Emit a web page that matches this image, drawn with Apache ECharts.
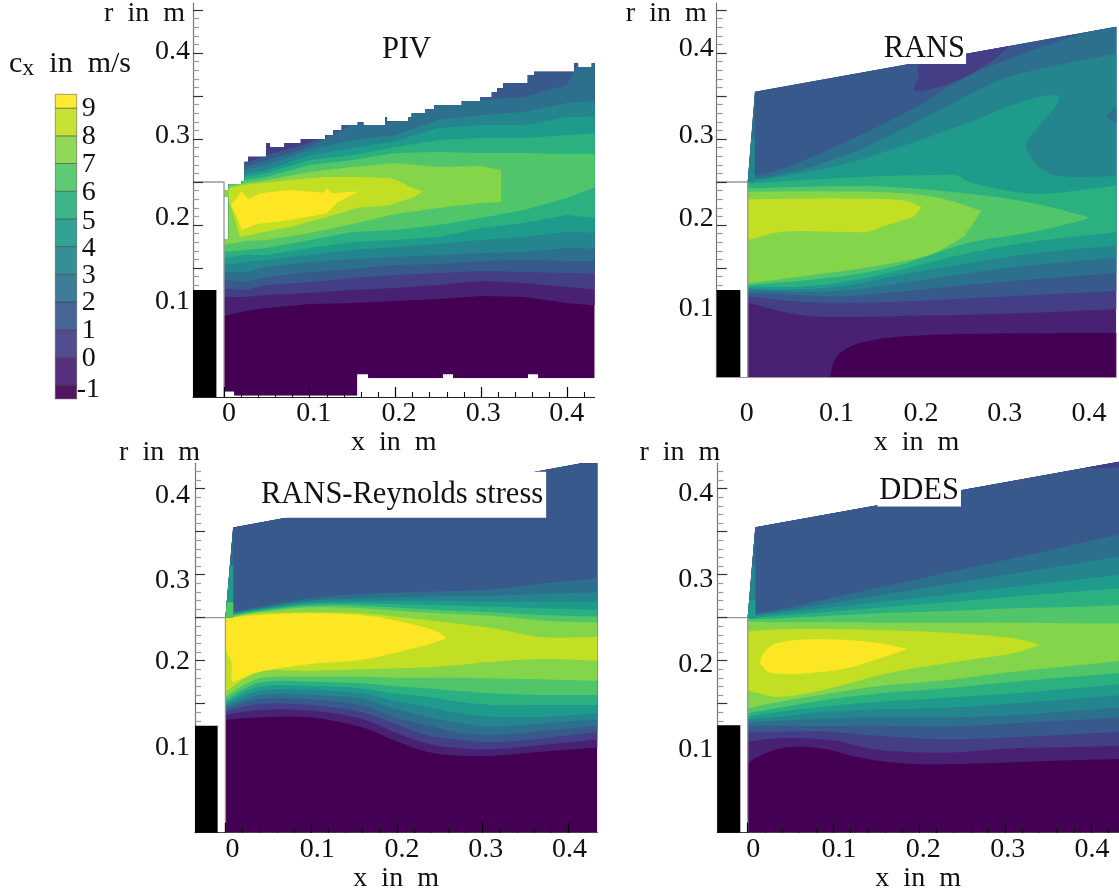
<!DOCTYPE html>
<html>
<head>
<meta charset="utf-8">
<style>html,body{margin:0;padding:0;background:#fff}#c{width:1119px;height:891px}</style>
<script src="https://cdn.jsdelivr.net/npm/echarts@6/dist/echarts.min.js"></script>
</head>
<body>
<div id="c"></div>
<script>
const FONT = '"Liberation Serif", serif';
const levelColors = ['#440154','#482173','#433E85','#38598C','#2D708E','#25858E','#1E9B8A','#2BB07F','#51C56A','#85D54A','#C2DF23','#FDE725'];
const legendEdges = [-1.5,-1,0,1,2,3,4,5,6,7,8,9,9.5];
const legendTicks = [-1,0,1,2,3,4,5,6,7,8,9];
const legendShift = [5,1.3,0.7,0.7,1.7,2,2.7,1.7,0.7,0.7,0];
const xTickLabels = ['0','0.1','0.2','0.3','0.4'];
const xTickValues = [0,0.1,0.2,0.3,0.4];
const yTickLabels = ['0.1','0.2','0.3','0.4'];
const yTickValues = [0.1,0.2,0.3,0.4];

/* ---------- PIV ---------- */
const pivDomain = [[0,.0062],[.0117,.0062],[.0117,.0015],[.1556,.0015],[.1556,.0263],[.168,.0263],[.168,.0217],[.2555,.0217],[.2555,.0263],[.2672,.0263],[.2672,.0217],[.3547,.0217],[.3547,.0263],[.3664,.0263],[.3664,.0217],[.4325,.0217],[.4325,.388],[.4291,.388],[.4291,.3837],[.4131,.3837],[.4131,.388],[.4088,.388],[.4088,.3783],[.3617,.3783],[.3617,.3744],[.3544,.3744],[.3544,.3648],[.3259,.3648],[.3259,.3593],[.3189,.3593],[.3189,.3547],[.3124,.3547],[.3124,.3488],[.2987,.3488],[.2987,.3442],[.2774,.3442],[.2774,.3395],[.2454,.3395],[.2454,.3345],[.2345,.3345],[.2345,.3299],[.219,.3299],[.219,.3252],[.215,.3252],[.215,.3209],[.1902,.3209],[.1902,.3252],[.1879,.3252],[.1879,.3163],[.1625,.3163],[.1625,.3194],[.156,.3194],[.156,.3163],[.1373,.3163],[.1373,.3105],[.1275,.3105],[.1275,.3047],[.1179,.3047],[.1179,.3],[.0895,.3],[.0895,.2953],[.07,.2953],[.07,.2907],[.0537,.2907],[.0537,.2953],[.049,.2953],[.049,.2907],[.049,.2794],[.028,.2794],[.028,.2736],[.0239,.2736],[.0239,.2512],[.0204,.2512],[.0204,.2477],[.0053,.2477],[.0053,.2407],[0,.2407],[0,.2329],[.0053,.2329],[.0053,.1837],[0,.1837]];
const pivX = [0,.025,.05,.1,.15,.2,.25,.3,.35,.4,.44];
const pivLowM1 = [.0942,.1,.1035,.1081,.1093,.1116,.114,.1174,.1163,.1093,.1058];
const pivLow0 = [.1163,.1163,.1186,.1209,.1244,.1267,.1302,.1349,.1326,.1279,.1244];
const pivLow1 = [.1256,.1244,.1302,.1337,.1384,.1419,.1442,.1465,.1453,.1442,.143];
const pivLow2 = [.136,.1337,.1395,.1453,.1488,.1535,.1547,.1581,.1593,.1581,.1581];
const pivLow3 = [.1453,.1453,.1512,.157,.1605,.1628,.1651,.1674,.1686,.1733,.1721];
const pivLow4 = [.1535,.157,.1593,.1651,.1709,.1744,.1779,.1826,.186,.1919,.1907];
const pivLow5 = [.1616,.1651,.1651,.1733,.1802,.1826,.186,.1965,.2023,.2116,.207];
const pivLow6 = [.1686,.1709,.1733,.1826,.1919,.1942,.2,.2081,.2174,.2314,.2465];
const pivUp1X = [0,.025,.05,.1,.15,.2,.44];
const pivUp1 = [.2721,.2721,.2814,.2953,.3244,.5,.5];
const pivUp2 = [.2674,.2674,.2756,.2907,.3163,.3198,.3453,.3453,.3488,.3628,.4384];
const pivUp3 = [.264,.264,.2698,.2872,.2988,.3047,.3221,.3279,.3314,.3419,.3442];
const pivUp4 = [.2593,.2593,.264,.2814,.2895,.2977,.3128,.3163,.3163,.3256,.3267];
const pivUp5 = [.2558,.2558,.2605,.2756,.2814,.2907,.2988,.3012,.3012,.3047,.307];
const pivUp6 = [.2523,.2523,.2558,.2698,.2756,.2837,.2849,.2837,.2837,.2826,.2826];
const piv7X = [0,.025,.05,.1,.15,.2,.25,.3,.3232];
const pivLow7 = [.1767,.1814,.1826,.1907,.2012,.2128,.2198,.2256,.2267];
const pivUp7 = [.244,.2488,.2523,.2616,.2674,.2721,.2674,.2686,.264];
const piv8Low = [[.0058,.2291],[.0187,.186],[.0459,.1919],[.077,.1977],[.1159,.2081],[.1548,.2198],[.1937,.2233],[.2112,.2291],[.2194,.2314],[.2322,.239]];
const piv8Up = [[.0058,.243],[.0225,.2465],[.077,.2523],[.1159,.2558],[.1548,.2558],[.1937,.2547],[.2089,.2488],[.217,.2442],[.2322,.239]];
const piv9Ring = [[.0078,.2238],[.0128,.2291],[.0206,.2388],[.0284,.2299],[.042,.2369],[.077,.2407],[.116,.2376],[.1199,.2427],[.1257,.2369],[.1567,.2388],[.1309,.2252],[.1199,.2136],[.077,.2058],[.0382,.2012],[.0206,.1942],[.0148,.2097]];

/* ---------- RANS ---------- */
const ransDomain = [[0,.0233],[.4302,.0233],[.4302,.4306],[.0085,.355],[0,.25]];
const ransDark = [[.0941,.0],[.0999,.0392],[.1155,.0566],[.1466,.0663],[.1933,.0713],[.2555,.0733],[.3333,.0741],[.4344,.0748]];
const ransLowX = [0,.061,.1194,.1777,.2555,.3333,.4344];
const ransLow0 = [.1097,.0953,.093,.0942,.0957,.098,.1023];
const ransLow1 = [.1174,.1108,.1097,.1108,.1147,.1186,.1236];
const ransLow2 = [.1213,.1186,.1174,.1225,.1302,.1368,.1446];
const ransLow3 = [.1244,.1225,.1244,.1322,.1438,.1535,.1624];
const ransLow4 = [.1263,.1252,.1302,.1418,.1554,.167,.1767];
const ransLow5 = [.1283,.1283,.1349,.1477,.167,.1806,.1922];
const rans6Low = [[0,.1302],[.061,.1353],[.1194,.1418],[.1777,.1535],[.2555,.1787],[.3333,.1922],[.3916,.2058],[.3956,.2097]];
const rans6Up = [[0,.2426],[.1388,.2453],[.2555,.2368],[.3333,.2252],[.3956,.2097]];
const rans7Low = [[0,.1322],[.061,.1399],[.1194,.1477],[.1777,.1573],[.2166,.167],[.2516,.1864],[.2555,.1922],[.2605,.198],[.2683,.2097],[.2722,.2166]];
const rans7Up = [[0,.2387],[.1388,.2387],[.2166,.2329],[.2722,.2166]];
const rans8Low = [[0,.1825],[.0416,.1922],[.1,.1922],[.1388,.1922],[.1621,.1999],[.1815,.2058],[.1932,.2097],[.203,.2205]];
const rans8Up = [[0,.2298],[.1,.231],[.1777,.229],[.203,.2205]];
const ransUp5 = [[0,.2484],[.1388,.2562],[.2166,.2581],[.2438,.2581],[.2613,.2492],[.31,.2387],[.3527,.2368],[.4345,.2465]];
const ransUp4 = [[0,.2504],[.1,.2678],[.1777,.2911],[.2555,.3182],[.3138,.3414],[.3527,.3511],[.3636,.3473],[.3527,.3298],[.3294,.3027],[.3255,.2872],[.3449,.2639],[.3722,.2562],[.4345,.2569]];
const ransUp3 = [[0,.2523],[.061,.2639],[.1388,.2911],[.2166,.3298],[.2944,.3686],[.3722,.388],[.4345,.3996]];
const ransUp2 = [[0,.2562],[.0416,.2659],[.1194,.2988],[.1972,.3376],[.2555,.3725],[.3333,.4035],[.4151,.4306],[.4345,.4383]];
const ransBlob2Low = [[.44,.3143],[.4209,.324],[.4209,.3298],[.44,.3434]];
const ransBlob0Low = [[.1932,.3589],[.2011,.3558],[.236,.3647],[.2749,.3841],[.31,.4112]];
const ransBlob0Up = [[.1932,.3589],[.1991,.3705],[.2088,.3918],[.31,.4112]];

/* ---------- RANS-Reynolds stress ---------- */
const rsDomain = [[0,0],[.4337,0],[.4337,.4295],[.415,.4295],[.009,.355],[0,.25]];
const rsX = [0,.0402,.0985,.1567,.1957,.2345,.2733,.3122,.3705,.4365];
const rsLowM1 = [.131,.1341,.1341,.1233,.1078,.0942,.0896,.0896,.0942,.0992];
const rsLow0 = [.1368,.1427,.1419,.133,.1175,.1039,.0981,.0969,.102,.1089];
const rsLow1 = [.1407,.1496,.1485,.1407,.1272,.1136,.1078,.1051,.1097,.1175];
const rsLow2 = [.1434,.1551,.1551,.1485,.1349,.1252,.1163,.1136,.1182,.1244];
const rsLow3 = [.1458,.1601,.1601,.1562,.1446,.1349,.1272,.1233,.1272,.1318];
const rsLow4 = [.1485,.1651,.1659,.162,.1535,.1465,.1388,.1349,.1349,.1388];
const rsLow5 = [.1512,.1698,.1706,.1679,.162,.1582,.1523,.1485,.1485,.1485];
const rsLow6 = [.1543,.1744,.1756,.1737,.1706,.1679,.1648,.162,.1601,.1601];
const rsLow7 = [.1582,.1795,.1814,.1814,.1803,.1803,.1803,.1795,.1783,.1764];
const rsLow8 = [.164,.1872,.1884,.1899,.1911,.1923,.195,.1989,.202,.2];
const rsUpX = [0,.0402,.0985,.1567,.2345,.3122,.3705,.4365];
const rsUp2 = [.2551,.2628,.2725,.2776,.2803,.283,.29,.2958];
const rsUp3 = [.2543,.2613,.2698,.2725,.2745,.2756,.2776,.2795];
const rsUp4 = [.2531,.2601,.2679,.2694,.2698,.2686,.2686,.2686];
const rsUp5 = [.2524,.259,.2659,.2667,.2648,.2628,.2609,.259];
const rsUp6 = [.2512,.2578,.264,.264,.2597,.2562,.2531,.2512];
const rsUp7 = [.25,.2566,.2621,.2609,.2559,.252,.2466,.2442];
const rsUp8 = [.2489,.2551,.2562,.2551,.2473,.2376,.2272,.2279];
const rs9Low = [[0,.2124],[.0072,.1969],[.0072,.1775],[.013,.1768],[.0402,.1872],[.0985,.1961],[.1567,.2008],[.1957,.2086],[.2345,.2183],[.2578,.226]];
const rs9Up = [[0,.2493],[.0402,.2531],[.0985,.2551],[.1567,.253],[.1957,.2473],[.2423,.2357],[.2578,.226]];

/* ---------- DDES ---------- */
const ddDomain = [[0,0],[.4327,0],[.4327,.4314],[.0089,.3551],[0,.25]];
const ddDarkX = [0,.0105,.0377,.0649,.096,.1348,.1931,.2708,.3485,.4378];
const ddLowM1 = [.0799,.0876,.098,.0999,.0961,.0865,.0799,.0806,.0834,.0857];
const ddLowX = [0,.0377,.096,.1542,.2319,.3096,.4378];
const ddLow0 = [.1058,.1097,.1078,.0961,.0931,.0981,.1008];
const ddLow1 = [.1175,.1175,.1175,.1124,.1086,.1109,.1175];
const ddLow2 = [.1244,.1244,.124,.1244,.1233,.1272,.1341];
const ddLow3 = [.1291,.1303,.133,.1341,.1341,.1368,.1458];
const ddLow4 = [.1318,.1349,.1407,.1434,.1454,.1504,.1601];
const ddLow5 = [.1349,.1407,.1473,.1523,.157,.162,.1729];
const ddLow6 = [.1388,.1454,.1551,.162,.1679,.1756,.1861];
const ddLow7 = [.1446,.1523,.162,.1706,.1775,.1872,.2];
const ddUpX = [0,.0377,.096,.1542,.2319,.3096,.3873,.4378];
const ddUp2 = [.2531,.2597,.2725,.2853,.3024,.319,.3365,.3481];
const ddUp3 = [.2524,.2574,.2667,.276,.2888,.3012,.3136,.3217];
const ddUp4 = [.2512,.2551,.2617,.2683,.2768,.2857,.2946,.3004];
const ddUp5 = [.2493,.2524,.257,.2617,.2679,.2745,.2807,.2845];
const ddUp6 = [.2481,.2493,.2524,.2551,.2578,.2609,.2628,.2648];
const ddUp7 = [.2454,.2446,.2446,.2442,.2442,.2442,.2434,.2431];
const dd8Low = [[0,.1651],[.0105,.1628],[.03,.1582],[.0571,.1601],[.096,.1679],[.1542,.1834],[.193,.1911],[.2319,.1969],[.2708,.2027],[.3096,.2086],[.3407,.2183]];
const dd8Up = [[0,.2338],[.0377,.2365],[.1154,.2365],[.2319,.2326],[.3096,.226],[.3407,.2183]];
const dd9Low = [[.0143,.1969],[.0162,.195],[.026,.1861],[.0533,.1845],[.0766,.1861],[.1154,.1911],[.1542,.2028],[.1865,.2136]];
const dd9Up = [[.0143,.1969],[.0182,.2086],[.0338,.2202],[.0688,.2248],[.1154,.2241],[.1542,.2202],[.1865,.2136]];
const ddBlob0Low = [[.3873,.425],[.4075,.4237],[.44,.4256]];
const ddBlob0Up = [[.3873,.425],[.44,.44]];

const zip = (xs, rs) => xs.map((x, i) => [x, rs[i]]);
const TOP = [[-.01,.5],[.45,.5]];
const band = (level, low, up) => ({level, low, up});

const pivPolys = [
  band(-2, pivDomain, []),
  band(-1, zip(pivX,pivLowM1), TOP), band(0, zip(pivX,pivLow0), TOP),
  band(1, zip(pivX,pivLow1), zip(pivUp1X,pivUp1)),
  band(2, zip(pivX,pivLow2), zip(pivX,pivUp2)),
  band(3, zip(pivX,pivLow3), zip(pivX,pivUp3)),
  band(4, zip(pivX,pivLow4), zip(pivX,pivUp4)),
  band(5, zip(pivX,pivLow5), zip(pivX,pivUp5)),
  band(6, zip(pivX,pivLow6), zip(pivX,pivUp6)),
  band(7, zip(piv7X,pivLow7), zip(piv7X,pivUp7)),
  band(8, piv8Low, piv8Up),
  band(9, piv9Ring, [])
];
const ransPolys = [
  band(-1, ransDomain, []),
  band(-2, ransDark, [[.0941,-.02],[.44,-.02]]),
  band(0, zip(ransLowX,ransLow0), TOP),
  band(1, zip(ransLowX,ransLow1), TOP),
  band(2, zip(ransLowX,ransLow2), ransUp2),
  band(3, zip(ransLowX,ransLow3), ransUp3),
  band(4, zip(ransLowX,ransLow4), ransUp4),
  band(5, zip(ransLowX,ransLow5), ransUp5),
  band(6, rans6Low, rans6Up), band(7, rans7Low, rans7Up), band(8, rans8Low, rans8Up),
  band(2, ransBlob2Low, [[.44,.3143],[.44,.3434]]),
  band(0, ransBlob0Low, ransBlob0Up),
  band(2, [[-.002,.2505],[.0085,.2505]], [[-.002,.355],[.0085,.355]]),
  band(3, [[-.002,.2505],[.0085,.2505]], [[-.002,.30],[.0085,.30]])
];
const rsPolys = [
  band(-2, rsDomain, []),
  band(-1, zip(rsX,rsLowM1), TOP), band(0, zip(rsX,rsLow0), TOP), band(1, zip(rsX,rsLow1), TOP),
  band(2, zip(rsX,rsLow2), zip(rsUpX,rsUp2)),
  band(3, zip(rsX,rsLow3), zip(rsUpX,rsUp3)),
  band(4, zip(rsX,rsLow4), zip(rsUpX,rsUp4)),
  band(5, zip(rsX,rsLow5), zip(rsUpX,rsUp5)),
  band(6, zip(rsX,rsLow6), zip(rsUpX,rsUp6)),
  band(7, zip(rsX,rsLow7), zip(rsUpX,rsUp7)),
  band(8, zip(rsX,rsLow8), zip(rsUpX,rsUp8)),
  band(9, rs9Low, rs9Up),
  band(2, [[-.002,.2505],[.0091,.2505]], [[-.002,.36],[.0091,.36]]),
  band(4, [[-.002,.2505],[.0091,.2505]], [[-.002,.31],[.0091,.31]]),
  band(6, [[-.002,.2505],[.0091,.2505]], [[-.002,.268],[.0091,.268]])
];
const ddPolys = [
  band(-2, ddDomain, []),
  band(-1, zip(ddDarkX,ddLowM1), TOP),
  band(0, zip(ddLowX,ddLow0), TOP), band(1, zip(ddLowX,ddLow1), TOP),
  band(2, zip(ddLowX,ddLow2), zip(ddUpX,ddUp2)),
  band(3, zip(ddLowX,ddLow3), zip(ddUpX,ddUp3)),
  band(4, zip(ddLowX,ddLow4), zip(ddUpX,ddUp4)),
  band(5, zip(ddLowX,ddLow5), zip(ddUpX,ddUp5)),
  band(6, zip(ddLowX,ddLow6), zip(ddUpX,ddUp6)),
  band(7, zip(ddLowX,ddLow7), zip(ddUpX,ddUp7)),
  band(8, dd8Low, dd8Up), band(9, dd9Low, dd9Up),
  band(0, ddBlob0Low, ddBlob0Up),
  band(2, [[-.002,.2505],[.0089,.2505]], [[-.002,.36],[.0089,.36]]),
  band(3, [[-.002,.2505],[.0089,.2505]], [[-.002,.31],[.0089,.31]]),
  band(4, [[-.002,.2505],[.0089,.2505]], [[-.002,.27],[.0089,.27]])
];

function smoothChain(pts) {
  if (pts.length < 3) return pts;
  const out = [];
  for (let i = 0; i < pts.length - 1; i++) {
    const p0 = pts[Math.max(i-1,0)], p1 = pts[i], p2 = pts[i+1], p3 = pts[Math.min(i+2,pts.length-1)];
    for (let s = 0; s < 10; s++) {
      const t = s/10, t2 = t*t, t3 = t2*t;
      out.push([0,1].map(k => 0.5*(2*p1[k] + (p2[k]-p0[k])*t + (2*p0[k]-5*p1[k]+4*p2[k]-p3[k])*t2 + (3*p1[k]-p0[k]-3*p2[k]+p3[k])*t3)));
    }
  }
  out.push(pts[pts.length-1]);
  return out;
}

const F = 28;
const richFor = (shifts, horizontal) => {
  const r = {};
  shifts.forEach((d, i) => {
    let pad = [0,0,0,0];
    if (horizontal) pad = d >= 0 ? [0,0,0,2*d] : [0,-2*d,0,0];
    else pad = d >= 0 ? [0,0,2*d,0] : [-2*d,0,0,0];
    r['s'+i] = {fontFamily: FONT, fontSize: F, color: '#111', padding: pad};
  });
  return r;
};

const range = (a, b, step, skipMultiple) => {
  const out = [];
  for (let k = Math.round(a/step); k*step <= b + 1e-9; k++) {
    if (skipMultiple && k % skipMultiple === 0) continue;
    out.push(+(k*step).toFixed(3));
  }
  return out;
};

const panels = [
  {name:'PIV', polys:pivPolys, domain:pivDomain, smooth:false, grid:{left:193,top:3,width:401.7,height:394},
   x:[-.0362,.4325], y:[0,.4581], rTop:.45, xTicks:true, axisCol:'#222', xGap:31, xMargin:3, yMargin:3,
   xShift:[5,4,3.6,2,0], yShift:[9.5,7.5,3.5,1.5], nameGap:-11, namePad:8, block:.1244, blockR:-.0089, rMin:0},
  {name:'RANS', polys:ransPolys, domain:ransDomain, smooth:true, grid:{left:716.7,top:3,width:399.6,height:374},
   x:[-.0362,.4302], y:[.0233,.4581], rTop:.45, xTicks:false, axisCol:'#999', xGap:51, xMargin:23, yMargin:3,
   xShift:[-1,3,2,0,-1.5], yShift:[2,6,3,4], nameGap:-11, namePad:10, block:.1244, blockR:-.0086, rMin:.0233},
  {name:'RS', polys:rsPolys, domain:rsDomain, smooth:true, grid:{left:195,top:463.3,width:402.3,height:369.4},
   x:[-.0355,.4337], y:[0,.4295], rTop:.43, xTicks:true, axisCol:'#444', xGap:31, xMargin:3, yMargin:5,
   xShift:[7,6,5,3,1], yShift:[-.8,-.8,-5.5,-6.5], nameGap:11, namePad:-5, block:.1244, blockR:-.0091, rMin:0},
  {name:'DDES', polys:ddPolys, domain:ddDomain, smooth:true, grid:{left:717.3,top:463.3,width:401.7,height:369.4},
   x:[-.0354,.4327], y:[0,.4295], rTop:.43, xTicks:true, axisCol:'#444', xGap:31, xMargin:3, yMargin:4,
   xShift:[5.6,5.5,4,2.7,1], yShift:[-2.5,-3.5,-4.8,-5.2], nameGap:11, namePad:-3, block:.1249, blockR:-.0086, rMin:0}
];

const grids = [], xAxes = [], yAxes = [], series = [];
panels.forEach((p, i) => {
  grids.push(Object.assign({outerBoundsMode:'none'}, p.grid));
  const ax = i*2;
  const tickMajorX = {show:p.xTicks, inside:true, length:10, customValues:xTickValues, lineStyle:{color:'#000',width:1.2}};
  xAxes.push({type:'value', gridIndex:i, min:p.x[0], max:p.x[1], position:'bottom', z:4,
    name:'x\u2002in\u2002m', nameLocation:'middle', nameGap:p.xGap,
    nameTextStyle:{fontFamily:FONT,fontSize:F,color:'#111'},
    splitLine:{show:false}, axisLine:{show:true,onZero:false,lineStyle:{color:p.axisCol,width:1}},
    axisTick:tickMajorX,
    axisLabel:{customValues:xTickValues, margin:p.xMargin, fontFamily:FONT, fontSize:F, color:'#111', verticalAlign:'top',
      formatter:v=>{const k=xTickValues.indexOf(v);return k<0?'':`{s${k}|${xTickLabels[k]}}`;}, rich:richFor(p.xShift,true)}});
  xAxes.push({type:'value', gridIndex:i, min:p.x[0], max:p.x[1], position:'bottom', z:4,
    splitLine:{show:false}, axisLine:{show:true,onZero:false,lineStyle:{color:'rgba(0,0,0,0)'}}, axisLabel:{show:false},
    axisTick:{show:p.xTicks, inside:true, length:5, customValues:range(0,.42,.02,5), lineStyle:{color:'#111',width:1.1}}});
  yAxes.push({type:'value', gridIndex:i, min:p.y[0], max:p.y[1], position:'left', z:4,
    name:'r\u2002in\u2002m', nameLocation:'end', nameGap:p.nameGap,
    nameTextStyle:{fontFamily:FONT,fontSize:F,color:'#111',align:'right',verticalAlign:'middle',padding:[0,p.namePad,0,0]},
    splitLine:{show:false}, axisLine:{show:true,onZero:false,lineStyle:{color:'#777',width:1.2}},
    axisTick:{show:true, inside:true, length:10, customValues:range(.15,p.rTop,.05), lineStyle:{color:'#333',width:1.2}},
    axisLabel:{customValues:yTickValues, margin:p.yMargin, fontFamily:FONT, fontSize:F, color:'#111',
      formatter:v=>{const k=yTickValues.indexOf(v);return k<0?'':`{s${k}|${yTickLabels[k]}}`;}, rich:richFor(p.yShift,false)}});
  yAxes.push({type:'value', gridIndex:i, min:p.y[0], max:p.y[1], position:'left', z:4,
    splitLine:{show:false}, axisLine:{show:true,onZero:false,lineStyle:{color:'rgba(0,0,0,0)'}}, axisLabel:{show:false},
    axisTick:{show:true, inside:true, length:6, customValues:range(.13,p.rTop,.01,5), lineStyle:{color:'#999',width:1.2}}});

  series.push({type:'custom', xAxisIndex:ax, yAxisIndex:ax, z:2, clip:false, silent:true,
    data:p.polys.map((q,k)=>[q.low[0][0],q.low[0][1],k]),
    renderItem:(params, api)=>{
      const q = p.polys[params.dataIndex];
      const toPx = c => api.coord(c);
      let low = q.low.map(toPx), up = q.up.map(toPx);
      if (p.smooth && q.up.length) { low = smoothChain(low); up = smoothChain(up); }
      const points = low.concat(up.slice().reverse());
      return {type:'polygon', shape:{points}, style:{fill:levelColors[q.level+2]},
        clipPath:{type:'polygon', shape:{points:p.domain.map(toPx)}}};
    }});
  series.push({type:'custom', xAxisIndex:ax, yAxisIndex:ax, z:5, clip:false, silent:true,
    data:[[p.x[0],p.block]],
    renderItem:(params, api)=>{
      const a = api.coord([p.x[0],p.block]), b = api.coord([p.blockR,p.rMin]);
      return {type:'rect', shape:{x:a[0],y:a[1],width:b[0]-a[0],height:b[1]-a[1]}, style:{fill:'#000'}};
    }});
  series.push({type:'line', xAxisIndex:ax, yAxisIndex:ax, z:3, silent:true, symbol:'none',
    data:[[p.x[0],.25],[0,.25],[0,p.rMin]], lineStyle:{color:'#999',width:1.3}});
});

/* colour bar */
grids.push({left:55.3, top:94.3, width:21.4, height:304.6, outerBoundsMode:'none'});
xAxes.push({type:'value', gridIndex:4, min:0, max:1, show:false});
yAxes.push({type:'value', gridIndex:4, min:-1.5, max:9.5, position:'right', z:4,
  splitLine:{show:false}, axisLine:{show:false,onZero:false}, axisTick:{show:false},
  axisLabel:{customValues:legendTicks, margin:0, align:'left', fontFamily:FONT, fontSize:F, color:'#111',
    formatter:v=>{const k=legendTicks.indexOf(v);return `{s${k}|${v}}`;},
    rich:Object.fromEntries(legendShift.map((d,k)=>['s'+k,{fontFamily:FONT,fontSize:F,color:'#111',padding:[2*d,0,0,k===0?0:5]}]))}});
series.push({type:'custom', xAxisIndex:8, yAxisIndex:8, z:2, silent:true, clip:false,
  data:levelColors.map((c,k)=>[0,legendEdges[k],k]),
  renderItem:(params, api)=>{
    const k = params.dataIndex;
    const a = api.coord([0,legendEdges[k+1]]), b = api.coord([1,legendEdges[k]]);
    return {type:'rect', shape:{x:a[0],y:a[1],width:b[0]-a[0],height:b[1]-a[1]},
      style:{fill:levelColors[k],opacity:.92,stroke:'rgba(60,60,60,.5)',lineWidth:1}};
  }});

const titleStyle = {fontFamily:FONT,fontSize:30.5,color:'#111',fontWeight:'normal'};
const boxStyle = Object.assign({lineHeight:28}, titleStyle);
const option = {
  animation:false, backgroundColor:'#fff', tooltip:{show:false},
  grid:grids, xAxis:xAxes, yAxis:yAxes, series,
  title:[
    {text:'PIV', left:382, top:34, padding:0, textStyle:titleStyle},
    {text:'RANS', left:882.7, top:34.5, padding:[0,1,0,1], backgroundColor:'#fff', textStyle:boxStyle},
    {text:'RANS-Reynolds stress', left:258, top:473.3, padding:[8,3,7,3], backgroundColor:'#fff', textStyle:boxStyle},
    {text:'DDES', left:877.3, top:477, padding:[0,2,0,2], backgroundColor:'#fff', textStyle:boxStyle},
    {text:'{a|c}{b|x}{a|\u2002in\u2002m/s}', left:9, top:47, padding:0,
      textStyle:{rich:{a:{fontFamily:FONT,fontSize:30,color:'#111',fontWeight:'normal'},b:{fontFamily:FONT,fontSize:24,color:'#111',fontWeight:'normal',padding:[10,0,0,0]}}}}
  ]
};
const chart = echarts.init(document.getElementById('c'), null, {renderer:'canvas'});
chart.setOption(option);
</script>
</body>
</html>
